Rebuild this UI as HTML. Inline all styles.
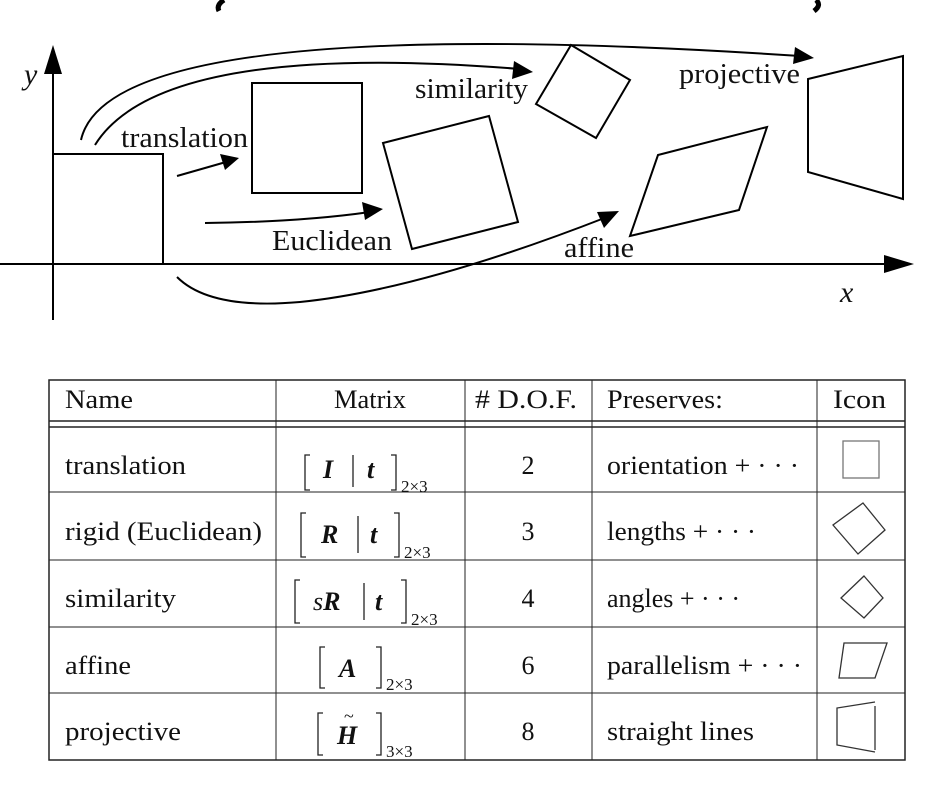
<!DOCTYPE html>
<html><head><meta charset="utf-8"><style>
html,body{margin:0;padding:0;background:#fff}
svg{display:block}
text{font-family:"Liberation Serif",serif;fill:#111}
</style></head><body>
<svg width="938" height="800" viewBox="0 0 938 800">
<path d="M224,0 Q216,5 219,11" stroke="#000" stroke-width="5" fill="none"/>
<path d="M816,0 Q822,5 814,11" stroke="#000" stroke-width="5" fill="none"/>

<g stroke="#000" fill="none" stroke-width="2">
<line x1="53" y1="320" x2="53" y2="70"/>
<polygon points="53,45 44,74 62,74" fill="#000" stroke="none"/>
<line x1="0" y1="264" x2="888" y2="264"/>
<polygon points="914,264 884,255 884,273" fill="#000" stroke="none"/>
<polyline points="53,154 163,154 163,264"/>
<rect x="252" y="83" width="110" height="110"/>
<polygon points="383,143 489,116 518,222 412,249"/>
<polygon points="571,45 630,80 596,138 536,104"/>
<polygon points="658,155 767,127 739,210 630,236"/>
<polygon points="808,79 903,56 903,199 808,172"/>
<line x1="177" y1="176" x2="226" y2="162"/>
<polygon points="239,158 220,154 225,170" fill="#000" stroke="none"/>
<path d="M205,223 Q300,222 370,212"/>
<polygon points="383,209 362,202 365,220" fill="#000" stroke="none"/>
<path d="M95,145 Q160,40 520,69"/>
<polygon points="533,72 514,61 512,79" fill="#000" stroke="none"/>
<path d="M81,140 Q110,10 800,56"/>
<polygon points="814,58 795,47 793,64" fill="#000" stroke="none"/>
<path d="M177,277 Q210,310 300,302 Q420,290 607,217"/>
<polygon points="619,211 597,212 604,228" fill="#000" stroke="none"/>
</g>
<g font-size="28">
<text x="121" y="147" textLength="127" lengthAdjust="spacingAndGlyphs">translation</text>
<text x="415" y="98" textLength="113" lengthAdjust="spacingAndGlyphs">similarity</text>
<text x="679" y="83" textLength="121" lengthAdjust="spacingAndGlyphs">projective</text>
<text x="272" y="250" textLength="120" lengthAdjust="spacingAndGlyphs">Euclidean</text>
<text x="564" y="257" textLength="70" lengthAdjust="spacingAndGlyphs">affine</text>
<text x="24" y="84" font-style="italic" font-size="30">y</text>
<text x="840" y="302" font-style="italic" font-size="30">x</text>
</g>

<g stroke="#222" fill="none">
<rect x="49" y="380" width="856" height="380" stroke-width="1.5"/>
<line x1="49" y1="421" x2="905" y2="421" stroke-width="1.5"/>
<line x1="49" y1="427" x2="905" y2="427" stroke-width="1.5"/>
<line x1="49" y1="492" x2="905" y2="492"/>
<line x1="49" y1="560" x2="905" y2="560"/>
<line x1="49" y1="627" x2="905" y2="627"/>
<line x1="49" y1="693" x2="905" y2="693"/>
<line x1="276" y1="380" x2="276" y2="760"/>
<line x1="465" y1="380" x2="465" y2="760"/>
<line x1="592" y1="380" x2="592" y2="760"/>
<line x1="817" y1="380" x2="817" y2="760"/>
</g>
<g font-size="26">
<text x="65" y="408" textLength="68" lengthAdjust="spacingAndGlyphs">Name</text>
<text x="334" y="408" textLength="72" lengthAdjust="spacingAndGlyphs">Matrix</text>
<text x="475" y="408" textLength="102" lengthAdjust="spacingAndGlyphs"># D.O.F.</text>
<text x="607" y="408" textLength="116" lengthAdjust="spacingAndGlyphs">Preserves:</text>
<text x="833" y="408" textLength="53" lengthAdjust="spacingAndGlyphs">Icon</text>

<text x="65" y="474" textLength="121" lengthAdjust="spacingAndGlyphs">translation</text>
<text x="65" y="540" textLength="197" lengthAdjust="spacingAndGlyphs">rigid (Euclidean)</text>
<text x="65" y="607" textLength="111" lengthAdjust="spacingAndGlyphs">similarity</text>
<text x="65" y="674" textLength="66" lengthAdjust="spacingAndGlyphs">affine</text>
<text x="65" y="740" textLength="116" lengthAdjust="spacingAndGlyphs">projective</text>

<text x="528" y="474" text-anchor="middle">2</text>
<text x="528" y="540" text-anchor="middle">3</text>
<text x="528" y="607" text-anchor="middle">4</text>
<text x="528" y="674" text-anchor="middle">6</text>
<text x="528" y="740" text-anchor="middle">8</text>

<text x="607" y="474" textLength="192" lengthAdjust="spacingAndGlyphs">orientation + · · ·</text>
<text x="607" y="540" textLength="149" lengthAdjust="spacingAndGlyphs">lengths + · · ·</text>
<text x="607" y="607" textLength="133" lengthAdjust="spacingAndGlyphs">angles + · · ·</text>
<text x="607" y="674" textLength="195" lengthAdjust="spacingAndGlyphs">parallelism + · · ·</text>
<text x="607" y="740" textLength="147" lengthAdjust="spacingAndGlyphs">straight lines</text>
</g>

<g stroke="#222" fill="none" stroke-width="1.3">
<polyline points="310,455 305,455 305,490 310,490"/><polyline points="391,455 396,455 396,490 391,490"/><line x1="353" y1="455" x2="353" y2="487"/>
<polyline points="306,513 301,513 301,557 306,557"/><polyline points="394,513 399,513 399,557 394,557"/><line x1="358" y1="516" x2="358" y2="553"/>
<polyline points="300,580 295,580 295,623 300,623"/><polyline points="401,580 406,580 406,623 401,623"/><line x1="364" y1="583" x2="364" y2="620"/>
<polyline points="325,647 320,647 320,688 325,688"/><polyline points="376,647 381,647 381,688 376,688"/>
<polyline points="323,713 318,713 318,755 323,755"/><polyline points="376,713 381,713 381,755 376,755"/>
</g>
<g font-size="26" font-weight="bold" font-style="italic">
<text x="323" y="478">I</text><text x="367" y="478">t</text>
<text x="321" y="543">R</text><text x="370" y="543">t</text>
<text x="313" y="610"><tspan font-weight="normal">s</tspan>R</text><text x="375" y="610">t</text>
<text x="339" y="677">A</text>
<text x="337" y="744">H</text>
<text x="344" y="722" font-weight="normal" font-style="normal" font-size="18">~</text>
</g>
<g font-size="17">
<text x="401" y="492">2×3</text>
<text x="404" y="558">2×3</text>
<text x="411" y="625">2×3</text>
<text x="386" y="690">2×3</text>
<text x="386" y="757">3×3</text>
</g>

<g stroke="#333" fill="none" stroke-width="1.3">
<rect x="843" y="441" width="36" height="37" stroke="#777"/>
<polygon points="863,503 885,530 858,554 833,525"/>
<polygon points="864,576 883,598 864,618 841,598"/>
<polygon points="844,643 887,643 875,678 839,678"/>
<polyline points="875,702 837,708 837,745 875,752"/>
<line x1="875" y1="706" x2="875" y2="750"/>
</g>
</svg>
</body></html>
